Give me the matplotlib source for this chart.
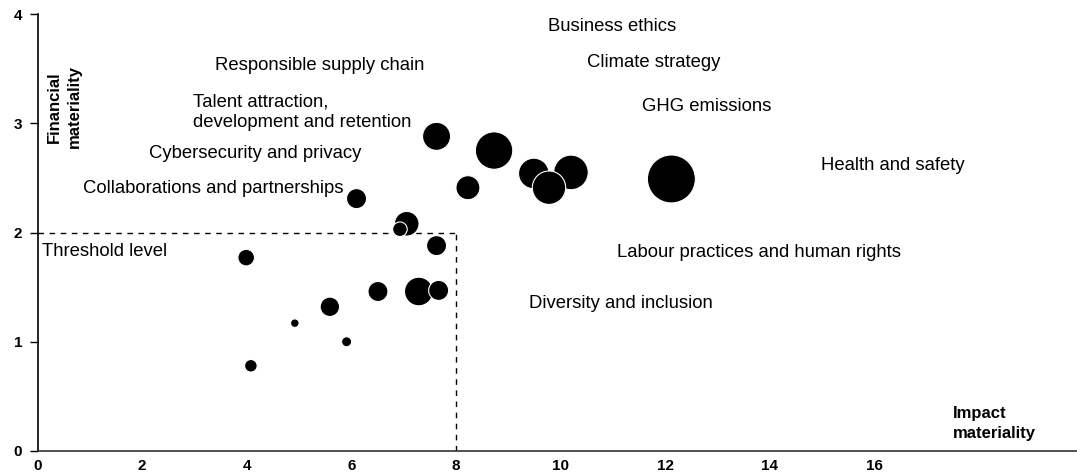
import matplotlib.pyplot as plt

# materiality matrix data
impact = [7.63, 8.73, 9.49, 10.20, 12.12, 8.23, 6.10, 7.06, 7.63, 3.99,
          7.29, 6.51, 5.59, 4.92, 5.91, 4.08, 9.78, 6.93, 7.67]
financial = [2.88, 2.75, 2.54, 2.55, 2.49, 2.41, 2.31, 2.08, 1.88, 1.77,
             1.46, 1.46, 1.32, 1.17, 1.00, 0.78, 2.41, 2.03, 1.47]
bubble_size = [406, 725, 485, 620, 1194, 299, 207, 314, 207, 143,
               424, 207, 195, 38, 52, 82, 578, 110, 207]

topics = ["Business ethics", "Climate strategy", "Responsible supply chain",
          "Talent attraction,\ndevelopment and retention", "GHG emissions",
          "Cybersecurity and privacy", "Health and safety",
          "Collaborations and partnerships", "Labour practices and human rights",
          "Diversity and inclusion"]
topic_x = [9.76, 10.51, 3.39, 2.97, 11.55, 2.13, 14.99, 0.87, 11.08, 9.40]
topic_y = [3.89, 3.56, 3.53, 3.10, 3.15, 2.72, 2.61, 2.40, 1.82, 1.35]

threshold = 2
impact_threshold = 8
xticks = [0, 2, 4, 6, 8, 10, 12, 14, 16]
yticks = [0, 1, 2, 3, 4]

plt.rcParams['font.family'] = ['Liberation Sans', 'DejaVu Sans']

fig = plt.figure(figsize=(10.77, 4.72), dpi=100)
ax = fig.add_axes([37.5 / 1077, 21 / 472, 1 - 37.5 / 1077, 437 / 472])

ax.scatter(impact, financial, s=bubble_size, color='black',
           edgecolor='white', linewidth=0.8, zorder=3)

# threshold box
ax.plot([0, impact_threshold], [threshold, threshold], color='black',
        lw=1, dashes=(4, 4), zorder=2)
ax.plot([impact_threshold, impact_threshold], [0, threshold], color='black',
        lw=1, dashes=(4, 4), zorder=2)
ax.text(0.09, 1.83, 'Threshold level', fontsize=13.3, va='center', ha='left')

for t, x, y in zip(topics, topic_x, topic_y):
    ax.text(x, y, t, fontsize=13.3, va='center', ha='left', linespacing=1.25)

ax.text(17.5, 0.25, 'Impact\nmateriality', fontsize=12, fontweight='bold',
        va='center', ha='left', linespacing=1.45)
ax.text(0.52, 3.15, 'Financial\nmateriality', fontsize=12, fontweight='bold',
        va='center', ha='center', rotation=90, linespacing=1.4)

ax.set_xlim(0, (1077 - 37.5) / 52.3)
ax.set_ylim(0, 4)
ax.set_xticks(xticks)
ax.set_yticks(yticks)
ax.tick_params(axis='x', length=0, pad=6, labelsize=11)
ax.tick_params(axis='y', length=6, width=1, pad=5, labelsize=11)
for lab in ax.get_xticklabels() + ax.get_yticklabels():
    lab.set_fontweight('bold')

ax.spines['top'].set_visible(False)
ax.spines['right'].set_visible(False)
ax.spines['left'].set_color('black')
ax.spines['bottom'].set_color('#333333')
ax.spines['left'].set_linewidth(1.2)
ax.spines['bottom'].set_linewidth(1.2)

fig.savefig('out.png', dpi=100)
